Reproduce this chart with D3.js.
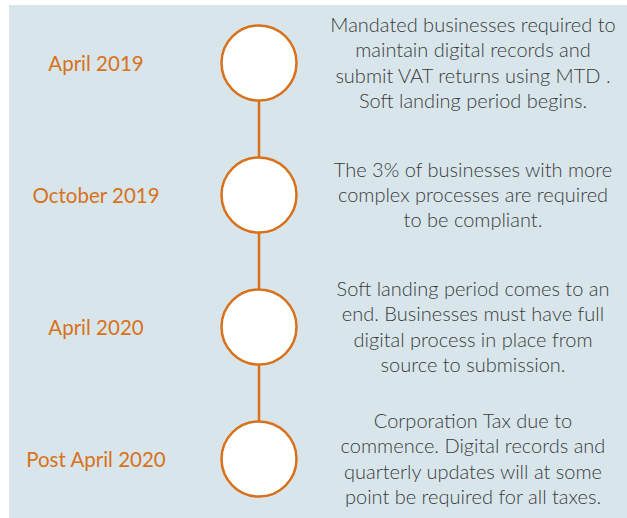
<!DOCTYPE html>
<html>
<head>
<meta charset="utf-8">
<script src="https://cdn.jsdelivr.net/npm/d3@7"></script>
<style>
	html, body { margin: 0; padding: 0; background: #ffffff; }
	svg { display: block; }
</style>
</head>
<body>
<div class="output"></div>
<script>
	//Timeline data.
	var dates = ["April 2019", "October 2019", "April 2020", "Post April 2020"];
	var descriptions = [
		["Mandated businesses required to", "maintain digital records and", "submit VAT returns using MTD .", "Soft landing period begins."],
		["The 3% of businesses with more", "complex processes are required", "to be compliant."],
		["Soft landing period comes to an", "end. Businesses must have full", "digital process in place from", "source to submission."],
		["Corporation Tax due to", "commence. Digital records and", "quarterly updates will at some", "point be required for all taxes."]
	];

	//Define variables.
	var width = 627;
	var height = 518;
	var orange = "#d9711b";
	var lineHeight = 25.3;

	var svg = d3.select("div.output").append("svg")
		.attr("width", width)
		.attr("height", height);

//--------------------------------PANEL------------------------------------------------------------------

	svg.append("rect")
		.attr("x", 9)
		.attr("y", 5)
		.attr("width", width - 9)
		.attr("height", height - 5)
		.style("fill", "#d8e6ec");

//--------------------------------SCALE------------------------------------------------------------------

	var y = d3.scalePoint()
		.domain(dates)
		.range([63, 459]);

	var cx = 259;

	//Connecting line.
	svg.append("line")
		.attr("x1", cx)
		.attr("x2", cx)
		.attr("y1", y(dates[0]))
		.attr("y2", y(dates[dates.length - 1]))
		.style("stroke", orange)
		.style("stroke-width", 2.5);

	//Circles.
	svg.selectAll("circle")
	  .data(dates)
	  .enter().append("circle")
		.attr("cx", cx)
		.attr("cy", function(d){ return y(d); })
		.attr("r", 37.5)
		.style("fill", "#ffffff")
		.style("stroke", orange)
		.style("stroke-width", 2.5);

//--------------------------------LABELS------------------------------------------------------------------

	svg.selectAll("text.date")
	  .data(dates)
	  .enter().append("text")
		.attr("class", "date")
		.attr("x", 96)
		.attr("y", function(d){ return y(d) + 8; })
		.attr("text-anchor", "middle")
		.attr("font-family", "Lato, sans-serif")
		.attr("font-size", "20.5px")
		.attr("fill", orange)
		.text(function(d){ return d; });

	var desc = svg.selectAll("text.desc")
	  .data(dates)
	  .enter().append("text")
		.attr("class", "desc")
		.attr("text-anchor", "middle")
		.attr("font-family", "Lato, sans-serif")
		.attr("font-weight", 300)
		.attr("font-size", "20px")
		.attr("fill", "#3a3a3a");

	desc.each(function(d, i){
		var lines = descriptions[i];
		var top = y(d) - (lines.length - 1) * lineHeight / 2 + 7;
		d3.select(this).selectAll("tspan")
		  .data(lines)
		  .enter().append("tspan")
			.attr("x", 473)
			.attr("y", function(l, j){ return top + j * lineHeight; })
			.text(function(l){ return l; });
	});
</script>
</body>
</html>
